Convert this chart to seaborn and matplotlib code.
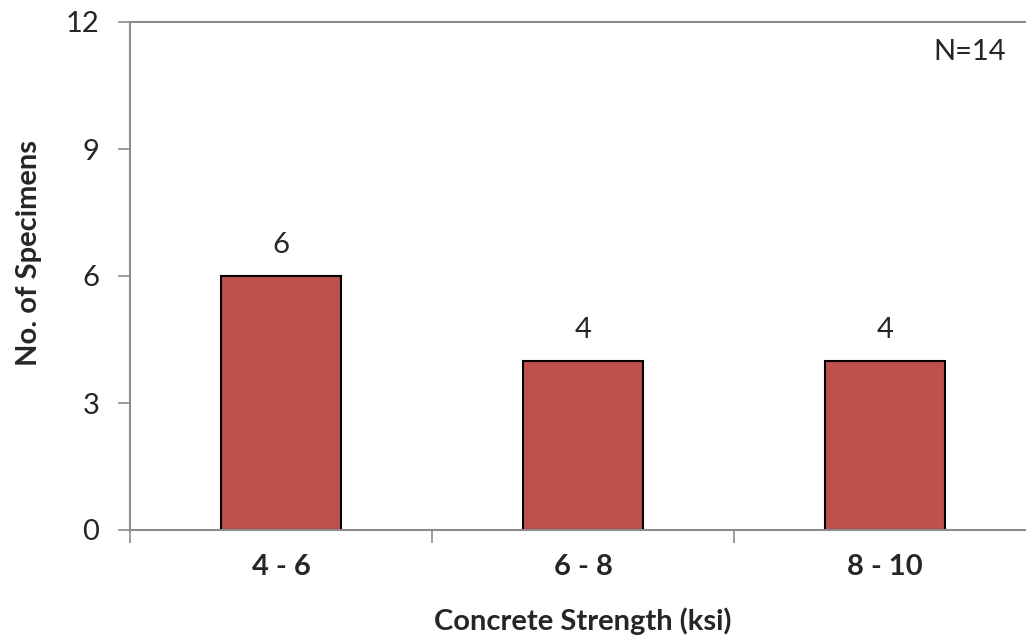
import matplotlib
matplotlib.use("Agg")
import matplotlib.pyplot as plt
import seaborn as sns
import pandas as pd
from matplotlib.ticker import FixedLocator

# Strength bins and specimen counts
categories = ["4 - 6", "6 - 8", "8 - 10"]
counts = [6, 4, 4]
y_ticks = [0, 3, 6, 9, 12]
total_label = "N=14"

sns.set_theme(style="white")
plt.rcParams["font.family"] = ["Lato", "DejaVu Sans"]

df = pd.DataFrame({"range": categories, "count": counts})

fig = plt.figure(figsize=(10.26, 6.39), dpi=100)
ax = fig.add_axes([130 / 1026, 109 / 639, 906 / 1026, 508 / 639])

sns.barplot(data=df, x="range", y="count", color="#C0504D", width=0.4,
            edgecolor="black", linewidth=1.5, saturation=1, ax=ax)

ax.set_xlim(-0.5, 2.5)
ax.set_ylim(0, 12)
ax.set_yticks(y_ticks)
ax.set_yticklabels([str(t) for t in y_ticks], fontsize=21)

# category boundaries carry the tick marks; labels sit at bar centres
ax.xaxis.set_minor_locator(FixedLocator([-0.5, 0.5, 1.5, 2.5]))
ax.tick_params(axis="x", which="major", length=0, pad=17)
ax.tick_params(axis="x", which="minor", length=9, width=1.2, color="#8c8c8c",
               direction="out", bottom=True)
ax.tick_params(axis="y", which="major", length=9, width=1.2, color="#8c8c8c",
               direction="out", left=True, pad=13)
for lbl in ax.get_xticklabels():
    lbl.set_fontsize(21)
    lbl.set_fontweight("bold")

for side in ["left", "bottom", "top", "right"]:
    ax.spines[side].set_color("#8c8c8c")
    ax.spines[side].set_linewidth(1.5)
    ax.spines[side].set_visible(True)

ax.set_xlabel("Concrete Strength (ksi)", fontsize=21, fontweight="bold")
ax.xaxis.set_label_coords(0.5, -0.153)
ax.set_ylabel("No. of Specimens", fontsize=21, fontweight="bold")
ax.yaxis.set_label_coords(-0.097, 0.545)

for i, v in enumerate(counts):
    ax.annotate(str(v), xy=(i, v), xytext=(0, 13), textcoords="offset points",
                ha="center", va="bottom", fontsize=21)

ax.text(0.927, 0.94, total_label, transform=ax.transAxes, ha="center",
        va="center", fontsize=21)

ax.grid(False)
fig.savefig("out.png", dpi=100, facecolor="white")
